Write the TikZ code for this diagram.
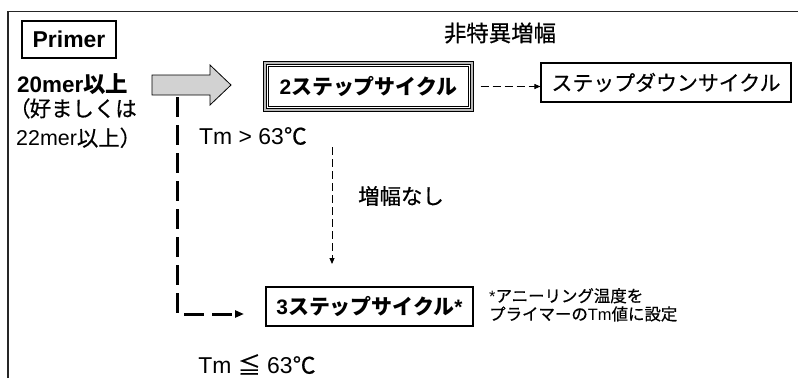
\documentclass[tikz,border=0pt]{standalone}
\usepackage{fontspec}
\setmainfont{Liberation Sans}
\newfontfamily\jpf{Noto Sans CJK JP}[FakeBold=0.6]
\newfontfamily\jpb{Noto Sans CJK JP Bold}
\usetikzlibrary{arrows.meta}
\newcommand{\J}[1]{{\jpf #1}}
\newcommand{\JB}[1]{{\jpb #1}}
\newcommand{\fs}[1]{\fontsize{#1}{#1}\selectfont}
\tikzset{
  box/.style={draw, line width=1.1bp, inner sep=0pt, text=black},
  lbl/.style={inner sep=0pt, text=black},
  thindash/.style={line width=0.9bp, dash pattern=on 8bp off 4bp, -{Triangle[length=6bp,width=5bp]}},
  thickdash/.style={line width=3bp, dash pattern=on 20bp off 8bp, -{Triangle[length=9bp,width=7bp]}},
  blockarrow/.style={draw, line width=0.8bp, fill=gray!35},
}
\begin{document}
\begin{tikzpicture}[x=1bp,y=-1bp]
\useasboundingbox (0,0) rectangle (798,378);
% outer frame (only top and left visible)
\draw[line width=1.8bp, black!85] (8,378) -- (8,11.5) -- (798,11.5);

\node[box, minimum width=94bp, minimum height=37bp] (primer) at (69,39.5) {\fs{23}\bfseries Primer};

\node[lbl, anchor=west] (p20) at (17,84.5) {\fs{22.5}\bfseries 20mer\JB{以上}};
\node[lbl, anchor=north west, align=left] (p22) at (16,98) {\fs{21.5}\hspace*{-7bp}\J{（}\hspace{-1bp}\J{好ましくは}\\[8bp]\fs{21.5}22mer\J{以上）}};

\draw[blockarrow] (152,75) -- (210,75) -- (210,65) -- (231,85) -- (210,105) -- (210,95) -- (152,95) -- cycle;

\node[lbl] (nsa) at (500,33) {\fs{22.5}\J{非特異増幅}};

% 2-step box with triple border
\node[draw, line width=1bp, double=gray!55, double distance=2.2bp, inner sep=0pt,
      minimum width=207bp, minimum height=47bp] (two) at (368.5,86.5) {};
\draw[line width=1.1bp] ([shift={(4,4)}]two.north west) rectangle ([shift={(-4,-4)}]two.south east);
\node[lbl] (twotxt) at (two.center) {\fs{21}\bfseries 2\JB{ステップサイクル}};

\node[box, minimum width=250bp, minimum height=39bp] (sd) at (666,82.5) {\fs{21}\J{ステップダウンサイクル}};

\draw[thindash, shorten <=8bp] (two.east) -- (two.east -| sd.west);

\node[lbl] (tmgt) at (253,136) {\fs{23}Tm > 63\J{℃}};

\coordinate (v1) at (332,147);
\coordinate (v2) at (332,264);
\draw[thindash] (v1) -- (v2);
\node[lbl] (noamp) at (401,196) {\fs{21.5}\J{増幅なし}};

\coordinate (c1) at (177,97);
\coordinate (c2) at (177,314);
\coordinate (c3) at (244,314);
\draw[thickdash] (c1) -- (c2) -- (c3);

\node[box, minimum width=207bp, minimum height=39bp] (three) at (369.5,306.5) {\fs{21}\bfseries 3\JB{ステップサイクル}*};

\node[lbl, anchor=north west, align=left] (note) at (489,288) {\fs{16.5}*\J{アニーリング温度を}\\[2bp]\fs{16.5}\J{プライマーの}Tm\J{値に設定}};

\node[lbl] (tmle) at (257,364.5) {\fs{23}Tm \J{≦} 63\J{℃}};
\end{tikzpicture}
\end{document}
